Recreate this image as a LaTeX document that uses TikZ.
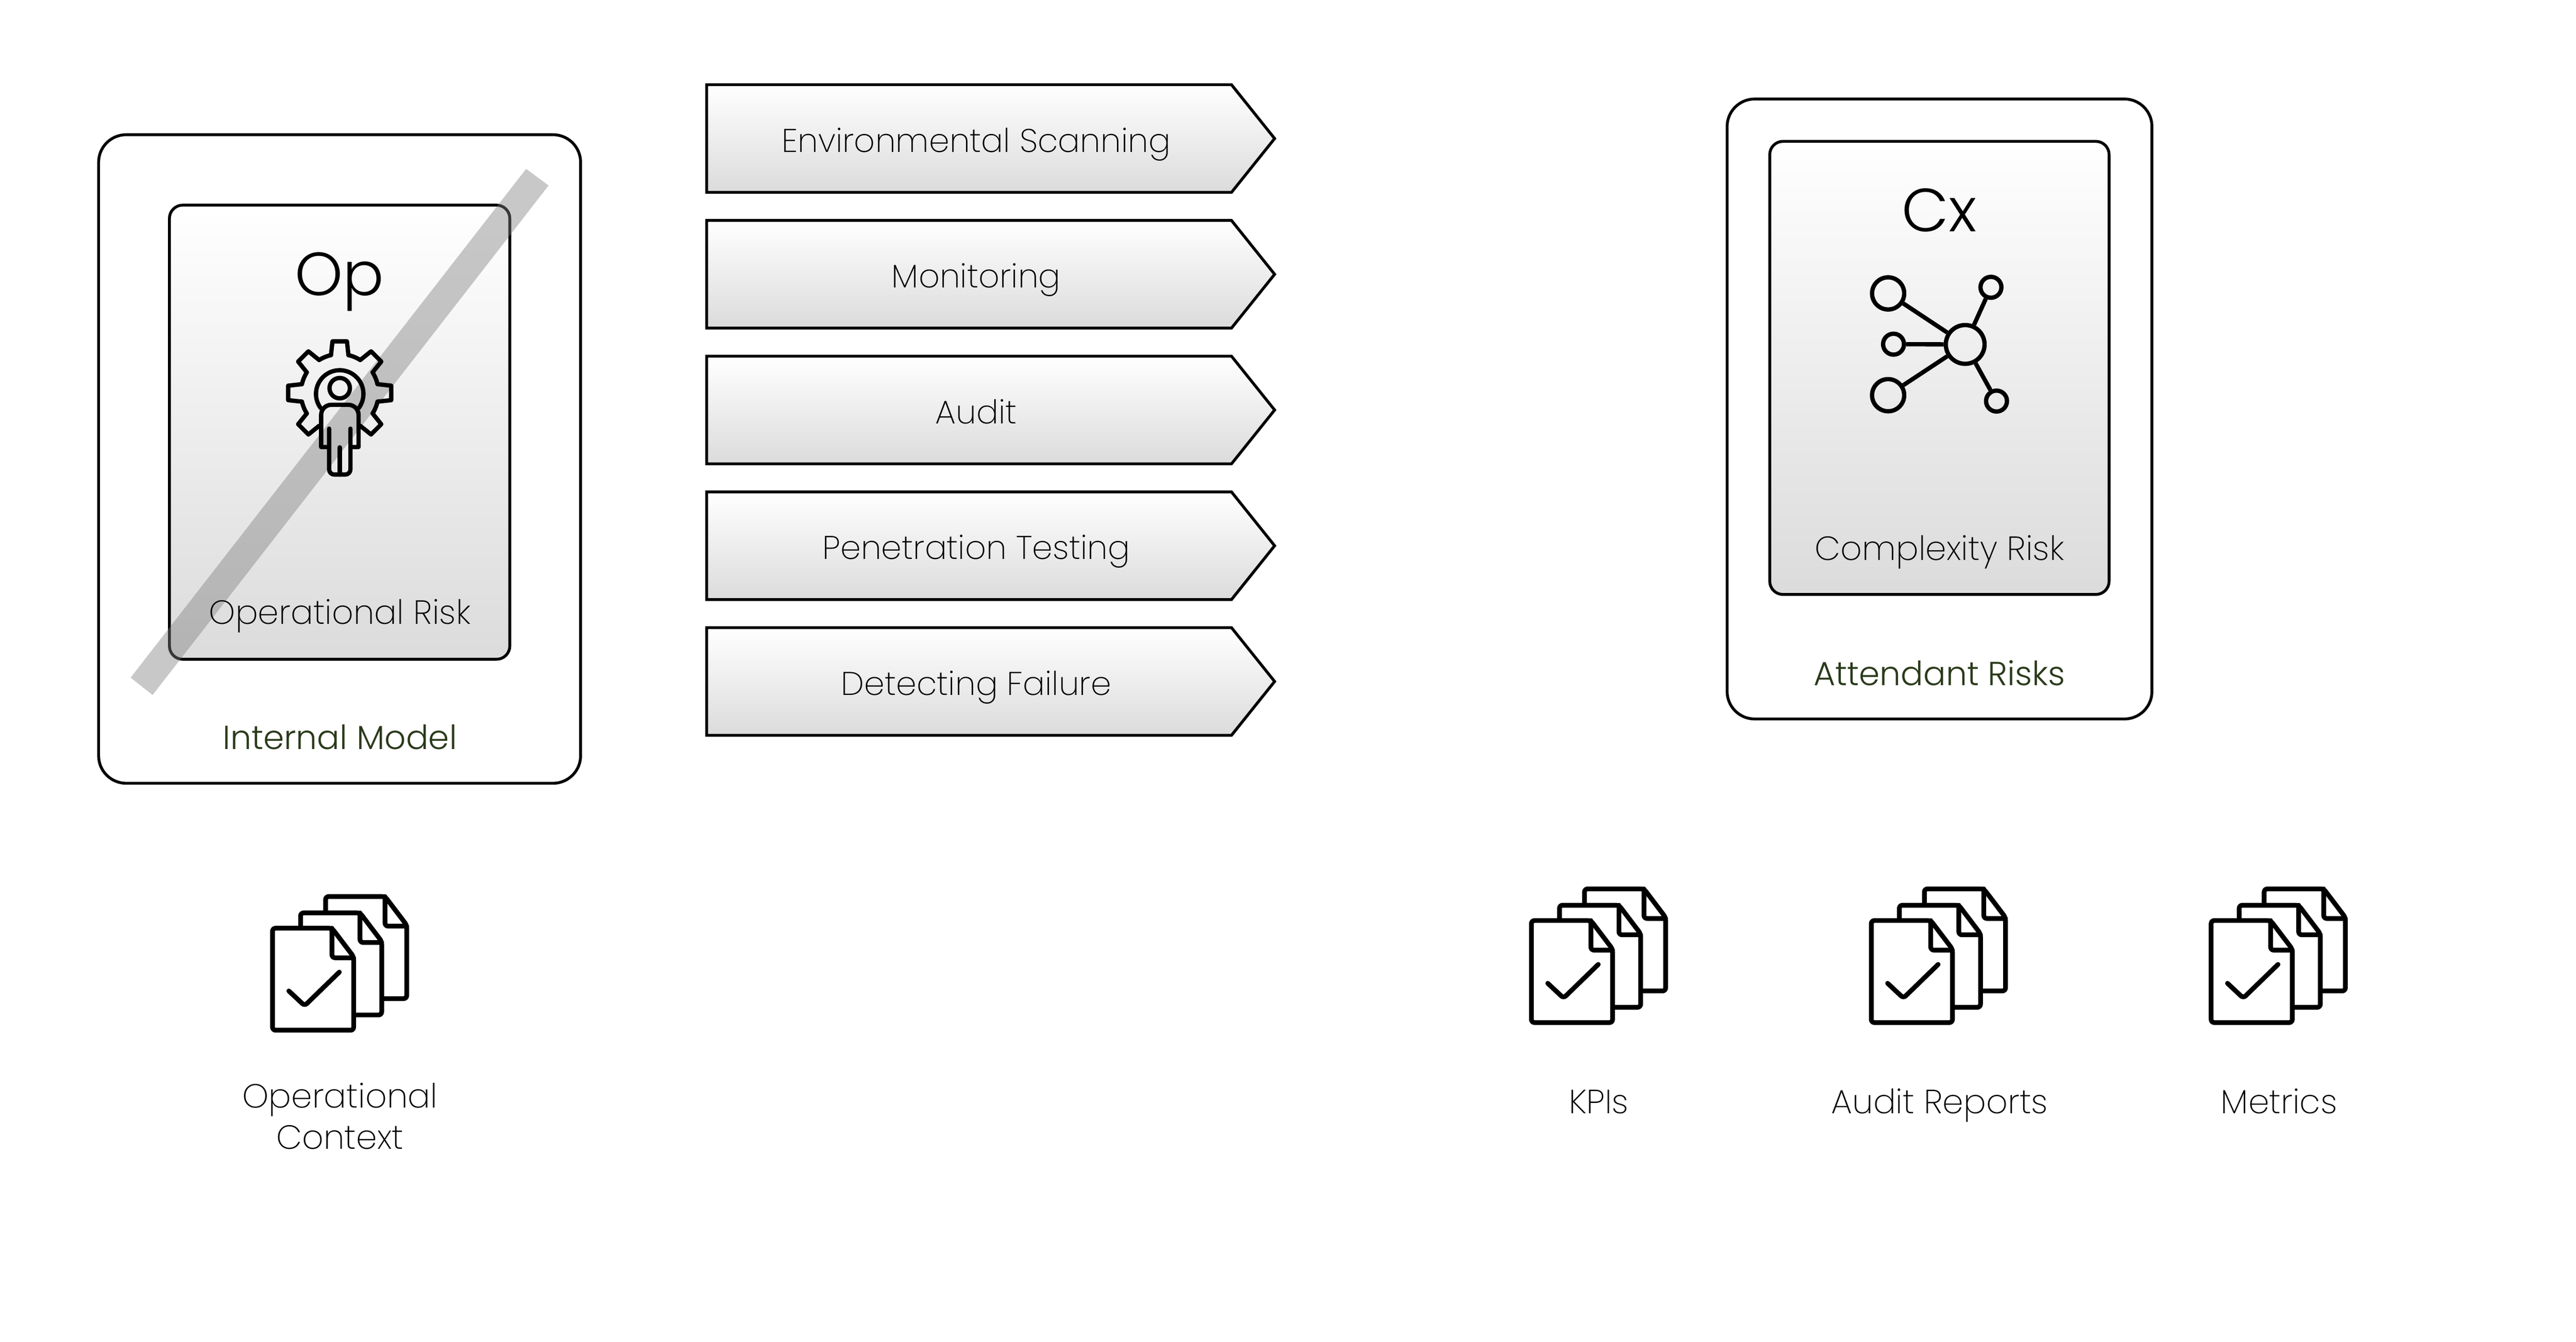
\documentclass[tikz,border=0pt]{standalone}
\usepackage{fontspec}
\setmainfont{Poppins}[UprightFont=* ExtraLight]
\newfontfamily\tagfont{Poppins}[UprightFont=* Light]
\usetikzlibrary{shapes.symbols,positioning}

\begin{document}
\begin{tikzpicture}
	\tikzstyle{Card}	= [draw, line width=1.6pt, rounded corners=.54cm, inner sep=0pt]
	\tikzstyle{Panel}	= [draw, line width=1.6pt, rounded corners=.26cm, inner sep=0pt, top color=white, bottom color=black!14]
	\tikzstyle{Stage}	= [signal, signal to=east, signal pointer angle=102.6, draw, line width=1.6pt, inner sep=0pt, minimum width=11.13cm, minimum height=2.11cm, top color=white, bottom color=black!14, text height=.6cm, text depth=.07cm, font=\fontsize{18.3}{23}\selectfont, execute at begin node={\hspace*{.28cm}}]
	\tikzstyle{Caption}	= [anchor=base, inner sep=0pt, font=\fontsize{18.7}{23}\selectfont]
	\tikzstyle{Tag}		= [Caption, text=tagGreen, font=\fontsize{18.6}{23}\tagfont]
	\tikzstyle{Badge}	= [anchor=base, inner sep=0pt, font=\fontsize{34}{40}\tagfont]
	\tikzstyle{IconLine}	= [line width=2.4pt, line join=round, line cap=round]
	\tikzstyle{DocLine}	= [line width=2.65pt, line join=round, line cap=round, rounded corners=.06cm]
	\tikzstyle{Spot}	= [circle, draw, line width=2.4pt, inner sep=0pt]
	\definecolor{tagGreen}{HTML}{2A3A1A}

	\useasboundingbox (0,0) rectangle (50.48,-26.29);

	\node (model) at (6.655,-8.995) [Card, minimum width=9.445cm, minimum height=12.71cm] {};
	\node (opPanel) at (6.655,-8.47) [Panel, minimum width=6.67cm, minimum height=8.9cm] {};
	\fill [black!50, opacity=.43] (10.31,-3.31) -- (10.75,-3.635) -- (2.99,-13.62) -- (2.56,-13.28) -- cycle;

	\node (attendant) at (38.0075,-8.015) [Card, minimum width=8.325cm, minimum height=12.15cm] {};
	\node (cxPanel) at (38.005,-7.21) [Panel, minimum width=6.65cm, minimum height=8.88cm] {};

	\foreach \id/\py/\txt in {scan/-2.715/Environmental Scanning, monitor/-5.375/Monitoring, audit/-8.035/Audit, pentest/-10.695/Penetration Testing, failure/-13.355/Detecting Failure}
		\node (\id) at (18.99,\py) [Stage] {\txt};

	\node (opTitle) at (6.655,-5.79) [Badge] {Op};
	\node (opName) at (6.66,-12.23) [Caption] {Operational Risk};
	\node (modelName) at (6.66,-14.68) [Tag] {Internal Model};
	\node (cxTitle) at (38.005,-4.54) [Badge] {Cx};
	\node (cxName) at (38.005,-10.98) [Caption] {Complexity Risk};
	\node (attendantName) at (38.005,-13.43) [Tag] {Attendant Risks};

	\foreach \a in {-45,0,45,90,135,180,225}
		\draw [IconLine, shift={(6.657,-7.7)}] (\a-13:.76) -- (\a-8:1.02) -- (\a+8:1.02) -- (\a+13:.76);
	\foreach \a in {-45,0,45,90,135,180}
		\draw [IconLine] (6.657,-7.7) ++(\a+13:.76) arc [start angle=\a+13, end angle=\a+32, radius=.76];
	\draw [IconLine] (6.657,-7.72) ++(-37:.465) arc [start angle=-37, end angle=217, radius=.465];
	\node (opHead) at (6.657,-7.607) [Spot, minimum size=.4cm] {};
	\draw [IconLine] (6.45,-8.76) -- (6.293,-8.76) [rounded corners=.2cm] -- (6.293,-7.933) -- (7.027,-7.933) [sharp corners] -- (7.027,-8.76) -- (6.867,-8.76);
	\draw [IconLine, rounded corners=.1cm] (6.45,-8.4) -- (6.45,-9.3) -- (6.867,-9.3) -- (6.867,-8.4);
	\draw [IconLine] (6.657,-8.767) -- (6.657,-9.3);

	\node (hub) at (38.51,-6.75) [Spot, minimum size=.76cm] {};
	\node (bigA) at (37.00,-5.75) [Spot, minimum size=.63cm] {};
	\node (bigB) at (37.00,-7.745) [Spot, minimum size=.63cm] {};
	\node (dotL) at (37.106,-6.745) [Spot, minimum size=.41cm] {};
	\node (dotA) at (39.015,-5.63) [Spot, minimum size=.41cm] {};
	\node (dotB) at (39.124,-7.86) [Spot, minimum size=.41cm] {};
	\foreach \leaf in {bigA, bigB, dotL, dotA, dotB}
		\draw [IconLine, line cap=butt] (hub) -- (\leaf);

	\foreach \ox/\oy in {5.34/-18.19, 30.01/-18.04, 36.67/-18.04, 43.33/-18.04} {
		\begin{scope}[shift={(\ox,\oy)}]
			\foreach \dx/\dy in {1.04/.62, .55/.3, 0/0} {
				\draw [DocLine, fill=white] (\dx,\dy) -- ++(1.165,0) -- ++(.425,-.56) -- ++(0,-1.44) -- ++(-1.59,0) -- cycle;
				\draw [DocLine] (\dx+1.165,\dy) -- ++(0,-.58) -- ++(.425,0);
			}
			\draw [DocLine] (.32,-1.23) -- (.63,-1.52) -- (1.31,-.86);
		\end{scope}
	}

	\node (ctxName) at (6.66,-22.52) [Caption, align=center] {Operational\\Context};
	\node (kpiName) at (31.33,-21.82) [Caption] {KPIs};
	\node (repName) at (38.01,-21.82) [Caption] {Audit Reports};
	\node (metName) at (44.66,-21.82) [Caption] {Metrics};
\end{tikzpicture}
\end{document}
